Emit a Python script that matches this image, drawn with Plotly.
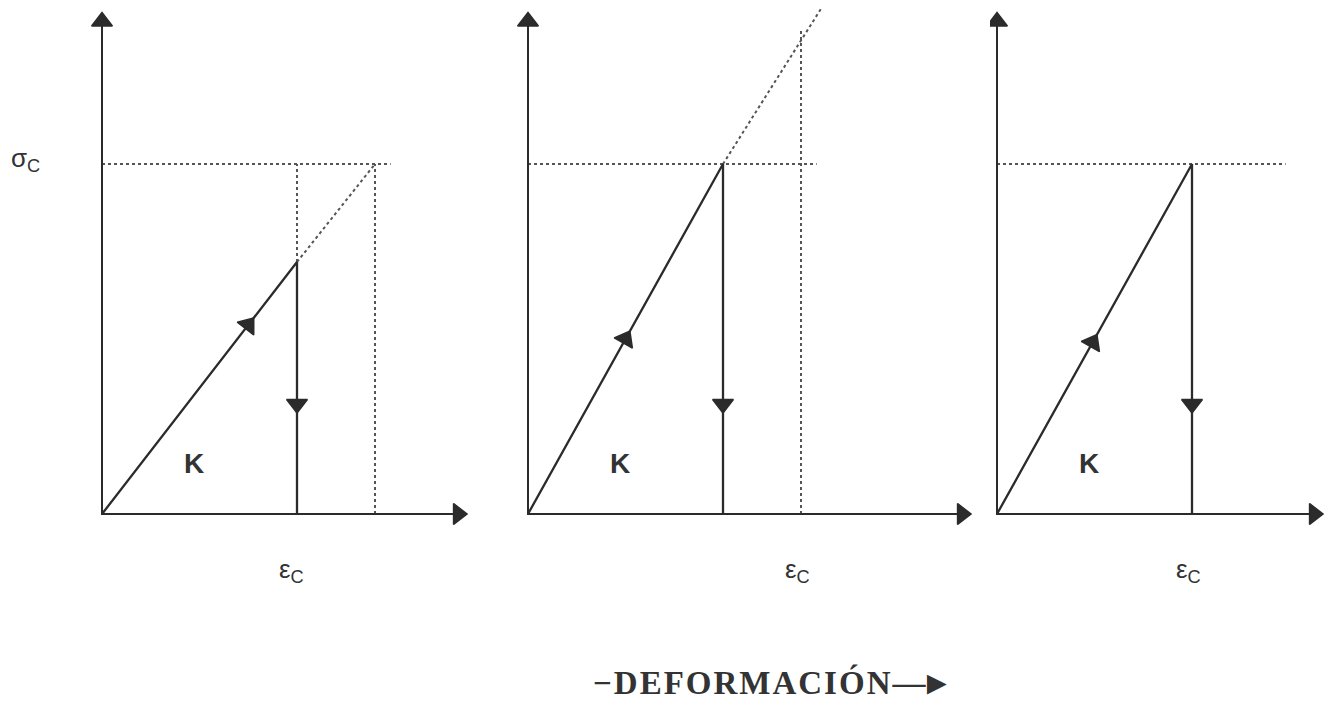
import plotly.graph_objects as go

# ---------------- data (stress in units of sigma_c, strain in units of the unloading strain)
sigma_c = 1.0
unload_strain = [1.0, 1.0, 1.0]          # strain where the solid path drops vertically
unload_stress = [0.72, 1.0, 1.0]         # stress reached on loading in each panel
sigma_line_end = [1.48, 1.48, 1.48]      # extent of the dotted sigma_c line
ext_strain = [[1.0, 1.40], [1.0, 1.51], []]   # dotted continuation of the elastic line
ext_stress = [[0.72, 1.0], [1.0, 1.45], []]
vdot_strain = [[1.0, 1.40], [1.40], []]       # dotted vertical guides
vdot_low = [[0.72, 0.0], [0.0], []]
vdot_high = [[1.0, 1.0], [1.38], []]
axis_x_end = [1.826, 2.226, 1.626]
axis_y_end = [1.407, 1.407, 1.407]
up_arrow_frac = [0.75, 0.50, 0.49]
down_arrow_stress = [0.314, 0.314, 0.314]
eps_label_strain = [0.97, 1.38, 0.98]
axis_title = "−DEFORMACIÓN"
axis_arrow = "—►"
stress_label = "σ<sub>C</sub>"
strain_label = "ε<sub>C</sub>"
stiff_label = "K"

# ---------------- layout geometry (pixels, page coordinates; the page body adds an 8px margin)
OFF = 8
W, H = 1337 - 2 * OFF, 709 - 2 * OFF
PX_X, PX_Y = 195.0, 350.0
origin_px = [102 - OFF, 528 - OFF, 997 - OFF]
origin_py = 514 - OFF
dom_px = [(0, 482 - OFF), (487 - OFF, 985 - OFF), (990 - OFF, W)]

SOLID = "#2b2b2b"
DOT = "#555555"
TXT = "#333333"
SANS = "Liberation Sans, Arial, sans-serif"
SERIF = "Liberation Serif, Times New Roman, serif"
HEAD = 18

fig = go.Figure()
annotations = []
layout_axes = {}

for i in range(3):
    xa = "x" if i == 0 else f"x{i+1}"
    ya = "y" if i == 0 else f"y{i+1}"
    xk = "xaxis" if i == 0 else f"xaxis{i+1}"
    yk = "yaxis" if i == 0 else f"yaxis{i+1}"
    d0, d1 = dom_px[i]
    ox = origin_px[i]
    layout_axes[xk] = dict(domain=[d0 / W, d1 / W],
                           range=[(d0 - ox) / PX_X, (d1 - ox) / PX_X],
                           visible=False, fixedrange=True, anchor=ya)
    layout_axes[yk] = dict(domain=[0, 1],
                           range=[(origin_py - H) / PX_Y, origin_py / PX_Y],
                           visible=False, fixedrange=True, anchor=xa)

    dot_line = dict(color=DOT, width=2, dash="dot")
    # dotted sigma_c line
    fig.add_trace(go.Scatter(x=[0, sigma_line_end[i]], y=[sigma_c, sigma_c], mode="lines",
                             line=dot_line, xaxis=xa, yaxis=ya, hoverinfo="skip"))
    # dotted extension of elastic line
    if ext_strain[i]:
        fig.add_trace(go.Scatter(x=ext_strain[i], y=ext_stress[i], mode="lines",
                                 line=dot_line, xaxis=xa, yaxis=ya, hoverinfo="skip"))
    # dotted verticals
    for v, lo, hi in zip(vdot_strain[i], vdot_low[i], vdot_high[i]):
        fig.add_trace(go.Scatter(x=[v, v], y=[lo, hi], mode="lines",
                                 line=dot_line, xaxis=xa, yaxis=ya, hoverinfo="skip"))
    # axes
    fig.add_trace(go.Scatter(x=[0, 0, axis_x_end[i]], y=[axis_y_end[i], 0, 0], mode="lines",
                             line=dict(color=SOLID, width=2), xaxis=xa, yaxis=ya,
                             hoverinfo="skip"))
    fig.add_trace(go.Scatter(x=[0, axis_x_end[i]], y=[axis_y_end[i], 0], mode="markers",
                             marker=dict(symbol=["triangle-up", "triangle-right"], size=HEAD,
                                         opacity=1, color=SOLID,
                                         line=dict(color=SOLID, width=1.5)),
                             xaxis=xa, yaxis=ya, hoverinfo="skip"))
    # solid load / unload path
    eu, su = unload_strain[i], unload_stress[i]
    fig.add_trace(go.Scatter(x=[0, eu, eu], y=[0, su, 0], mode="lines",
                             line=dict(color=SOLID, width=2.3),
                             xaxis=xa, yaxis=ya, hoverinfo="skip"))
    # arrow on loading line (oriented along the line)
    f = up_arrow_frac[i]
    fig.add_trace(go.Scatter(x=[0, eu * f], y=[0, su * f], mode="markers",
                             marker=dict(symbol="triangle-up", size=[0, HEAD], angleref="previous",
                                         opacity=1, color=SOLID,
                                         line=dict(color=SOLID, width=1.5)),
                             xaxis=xa, yaxis=ya, hoverinfo="skip"))
    # arrow on unloading line
    fig.add_trace(go.Scatter(x=[eu], y=[down_arrow_stress[i]], mode="markers",
                             marker=dict(symbol="triangle-down", size=HEAD, opacity=1,
                                         color=SOLID, line=dict(color=SOLID, width=1.5)),
                             xaxis=xa, yaxis=ya, hoverinfo="skip"))
    # labels
    annotations.append(dict(x=0.47, y=0.143, xref=xa, yref=ya, text=stiff_label, showarrow=False,
                            font=dict(family=SANS, size=28, color=TXT, weight="bold")))
    annotations.append(dict(x=eps_label_strain[i], y=-0.16, xref=xa, yref=ya, text=strain_label,
                            showarrow=False, font=dict(family=SANS, size=26, color=TXT)))

# sigma_c label on the first panel
annotations.append(dict(x=-0.31, y=sigma_c + 0.012, xref="x", yref="y", text=stress_label,
                        showarrow=False, xanchor="right", yanchor="middle",
                        font=dict(family=SANS, size=26, color=TXT)))

# bottom title
title_text = ('<span style="letter-spacing:2px">' + axis_title + '</span>'
              '<span style="letter-spacing:-5px">' + axis_arrow + '</span>')
annotations.append(dict(x=(770 - OFF) / W, y=1 - (682 - OFF) / H, xref="paper", yref="paper",
                        text=title_text, showarrow=False, xanchor="center", yanchor="middle",
                        font=dict(family=SERIF, size=33, color=TXT, weight="bold")))

fig.update_layout(width=W, height=H, margin=dict(l=0, r=0, t=0, b=0),
                  paper_bgcolor="white", plot_bgcolor="white", showlegend=False,
                  annotations=annotations, **layout_axes)

fig.write_html("out.html")
